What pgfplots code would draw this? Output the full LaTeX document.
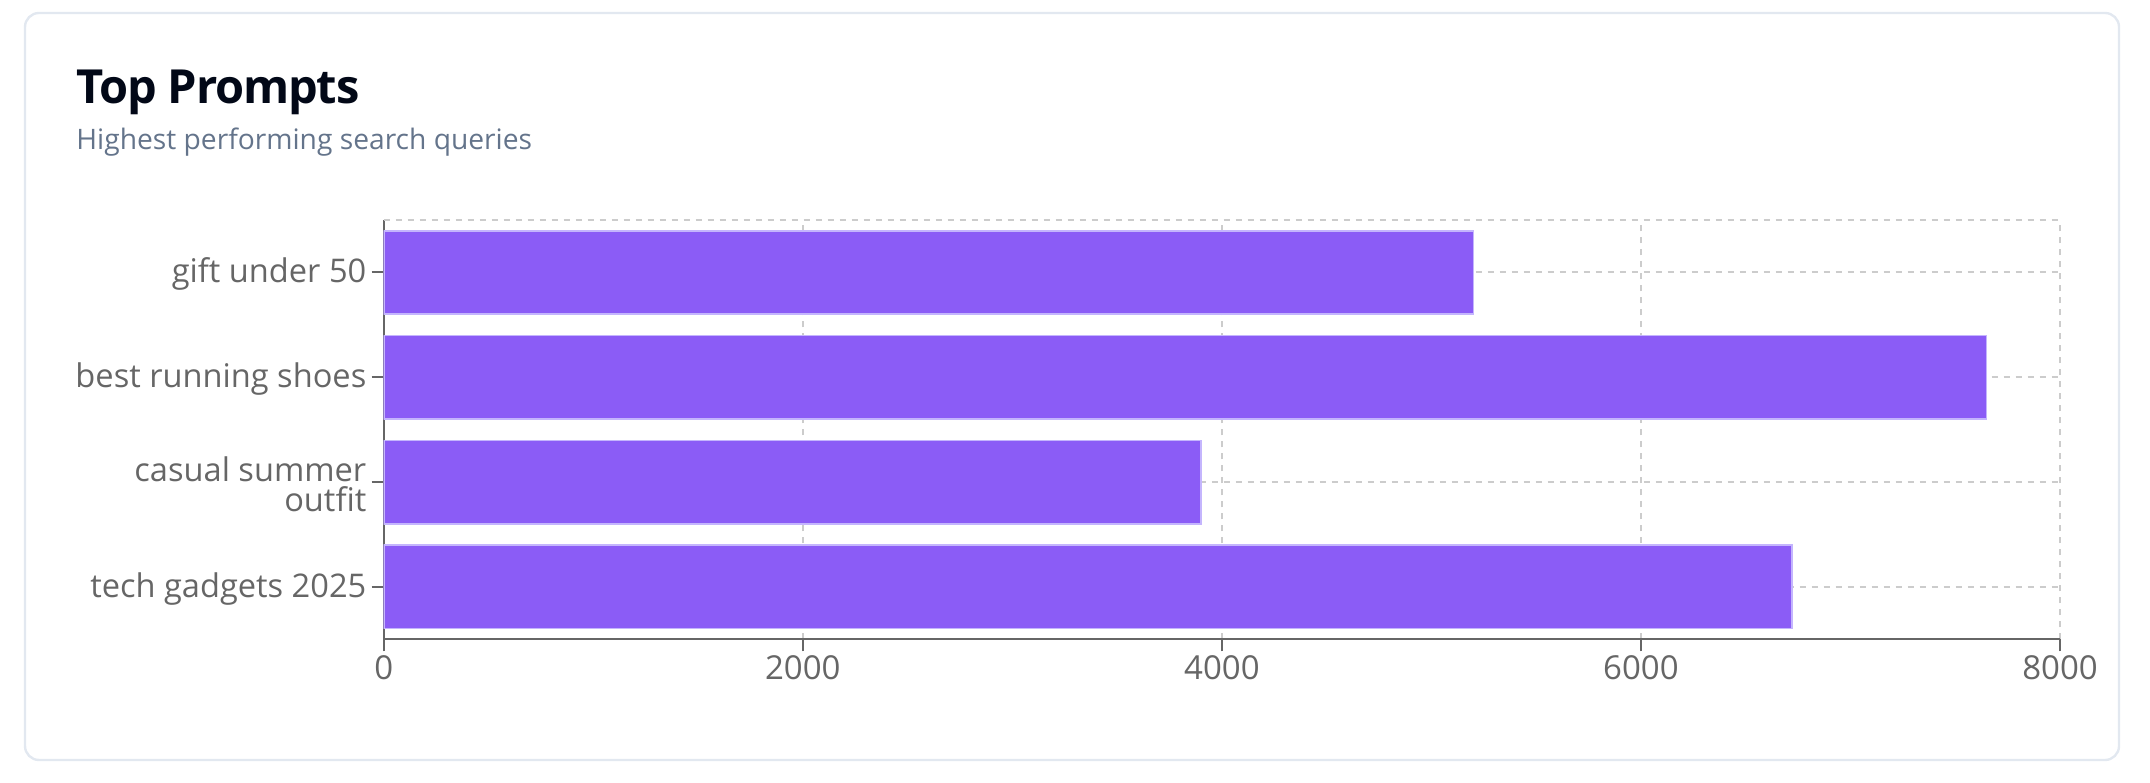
\documentclass[border=0pt]{standalone}
\usepackage{fontspec}
\setmainfont{Open Sans}
\newfontfamily\titlefont[LetterSpace=-2.5]{Open Sans}
\usepackage{pgfplots}
\pgfplotsset{compat=1.18}
\definecolor{barfill}{HTML}{8B5CF6}
\definecolor{barline}{HTML}{C4B5FD}
\definecolor{tickgray}{HTML}{666666}
\definecolor{gridgray}{HTML}{CCCCCC}
\definecolor{subgray}{HTML}{64748B}
\definecolor{titleblack}{HTML}{020817}
\definecolor{cardborder}{HTML}{E2E8F0}
\begin{document}
\begin{tikzpicture}[x=1pt,y=1pt]
\path[use as bounding box] (0,0) rectangle (1075,391);
\draw[cardborder, line width=1.2pt, rounded corners=7pt] (12.5,11) rectangle (1059.5,384.5);
\node[anchor=base west, inner sep=0pt, text=titleblack, font=\titlefont\fontsize{23.5}{28}\selectfont\bfseries] at (38,339) {Top Prompts};
\node[anchor=base west, inner sep=0pt, text=subgray, font=\fontsize{14.1}{17}\selectfont] at (38,316) {Highest performing search queries};
\begin{axis}[
  at={(191.85pt,71.35pt)}, anchor=south west,
  scale only axis, width=838.15pt, height=209.65pt,
  xbar, bar width=41.65pt, bar shift=0pt,
  xmin=0, xmax=8000, ymin=-0.5, ymax=3.5,
  xtick={0,2000,4000,6000,8000},
  ytick={0,1,2,3},
  yticklabels={tech gadgets 2025, {casual summer\\outfit}, best running shoes, gift under 50},
  axis x line*=bottom, axis y line*=left,
  axis line style={draw=tickgray, line width=1pt, -},
  x axis line style={-}, y axis line style={-},
  tick style={draw=tickgray, line width=1pt},
  tick align=outside, major tick length=6pt,
  xmajorgrids, ymajorgrids,
  major grid style={draw=gridgray, line width=1pt, dash pattern=on 3pt off 3pt},
  extra y ticks={3.5}, extra y tick labels={},
  extra y tick style={grid=major, major tick length=0pt},
  xticklabel style={font=\fontsize{16.5}{18}\selectfont, text=tickgray, inner sep=0pt, yshift=-2pt},
  yticklabel style={font=\fontsize{16.3}{15}\selectfont, text=tickgray, align=right, inner sep=0pt, xshift=-2.5pt, yshift=-1pt},
  /pgf/number format/assume math mode=true,
  /pgf/number format/1000 sep={},
]
\addplot[fill=barfill, draw=barline, line width=0.8pt] coordinates {(5200,3) (7650,2) (3900,1) (6720,0)};
\end{axis}
\end{tikzpicture}
\end{document}
